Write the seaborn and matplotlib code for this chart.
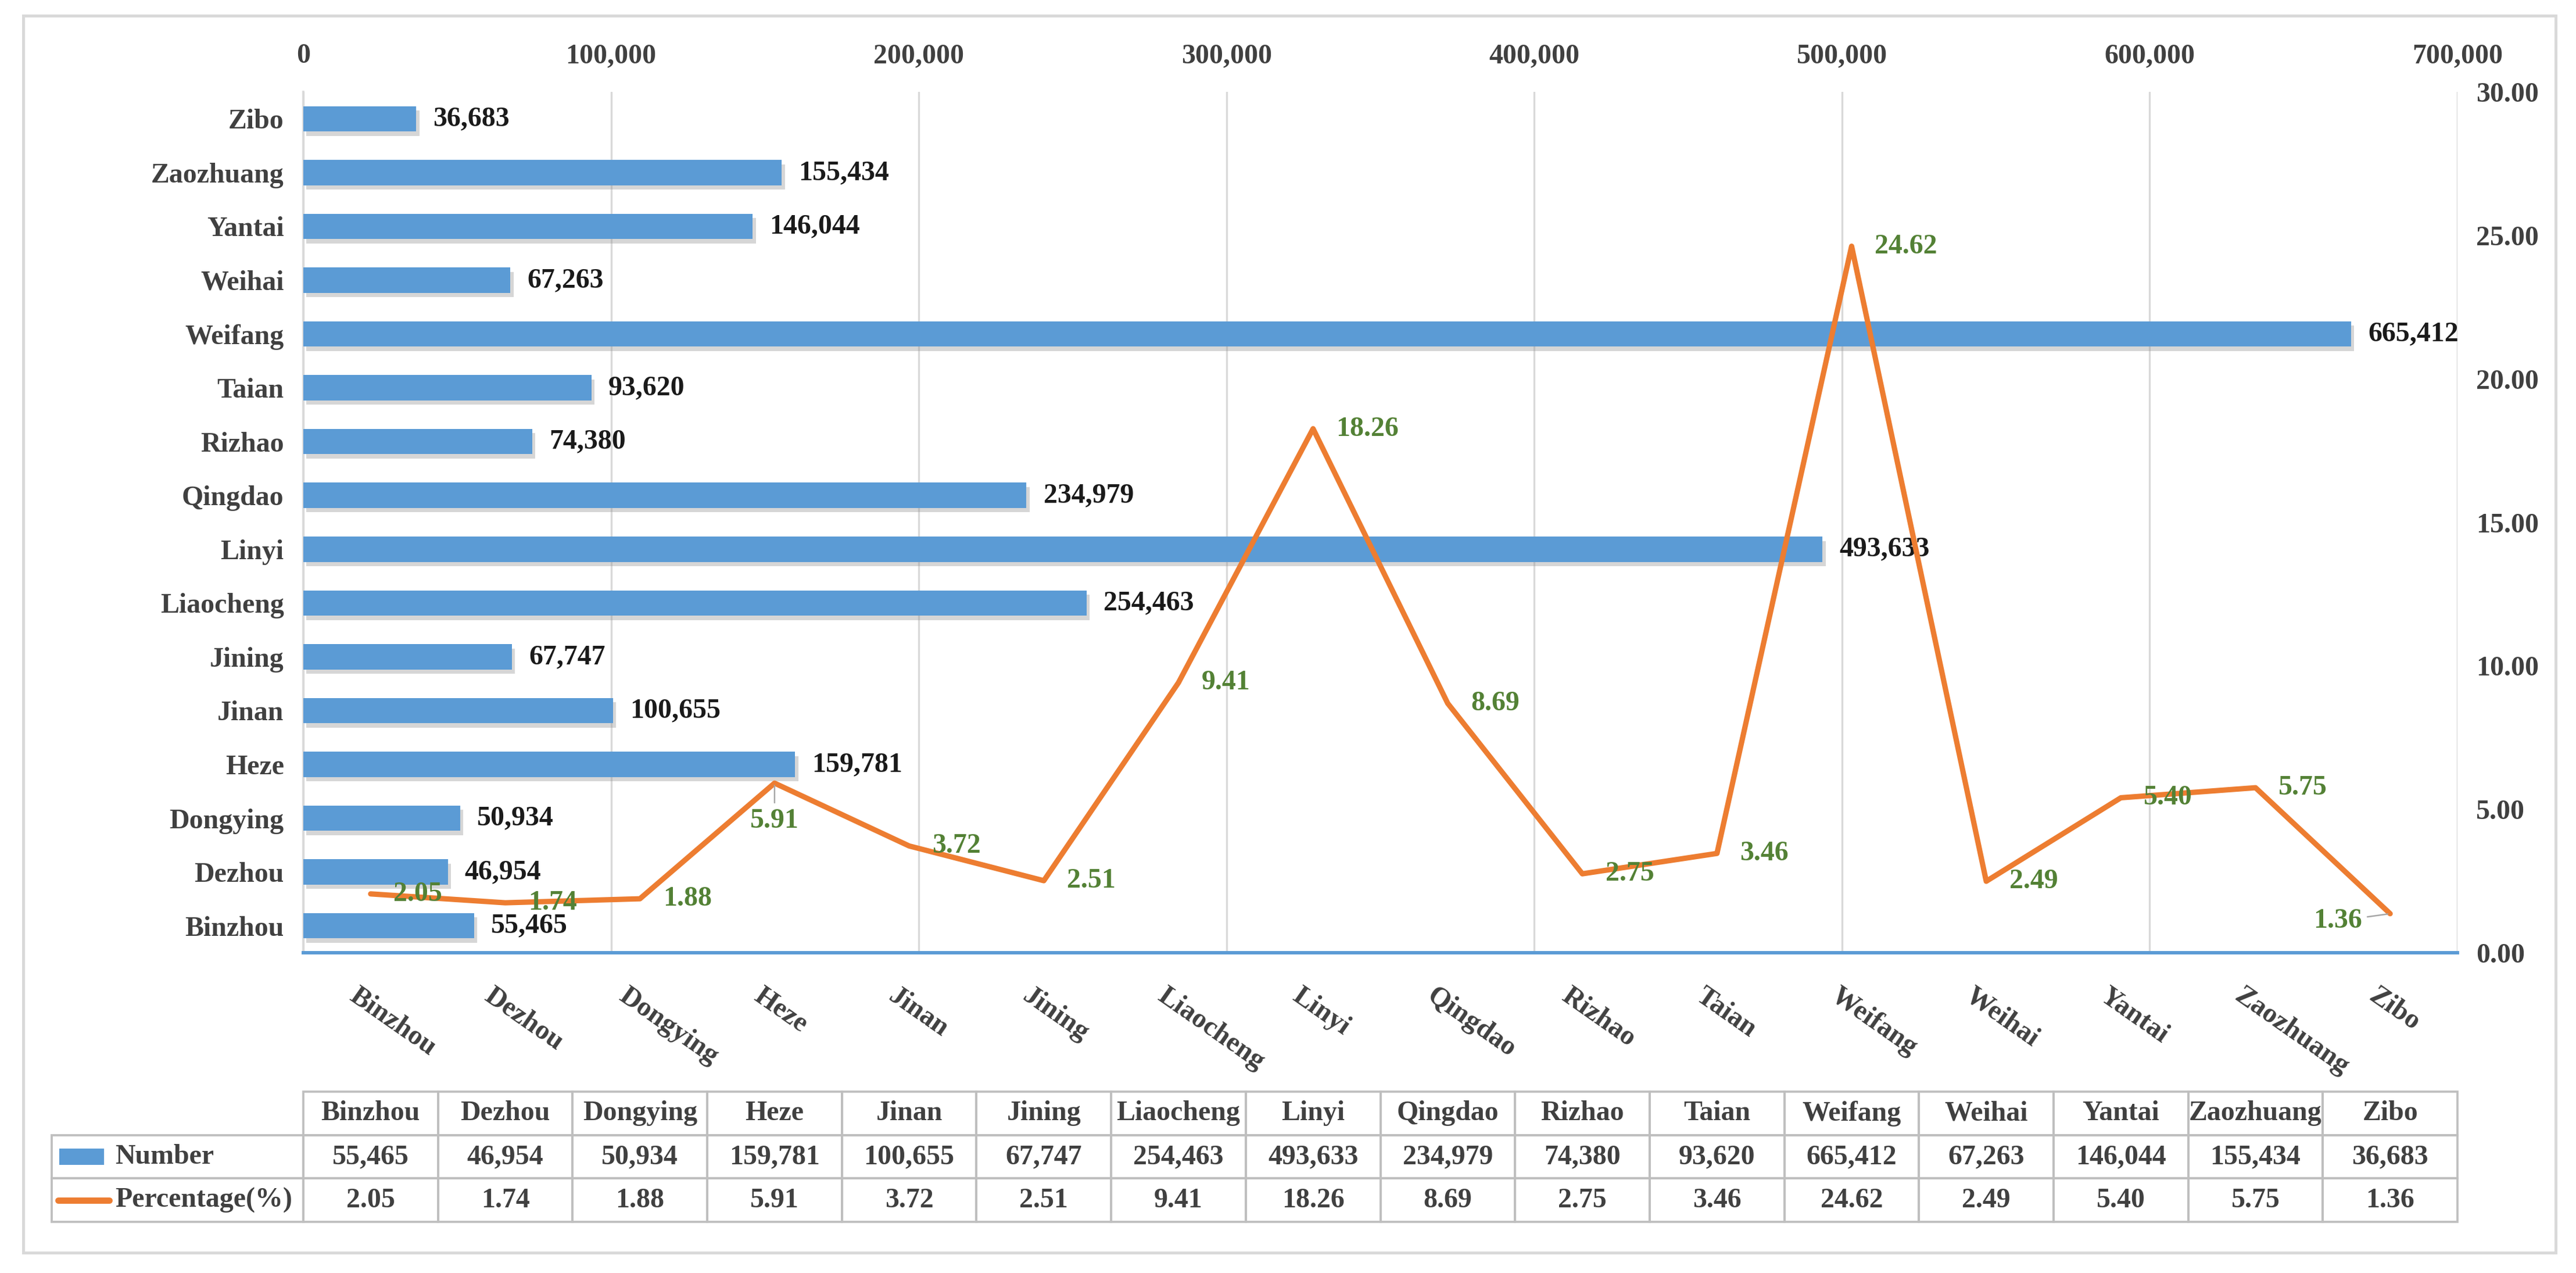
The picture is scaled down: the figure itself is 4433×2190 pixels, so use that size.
import numpy as np
import pandas as pd
import matplotlib
matplotlib.use("Agg")
import matplotlib.pyplot as plt
import matplotlib.patheffects as pe
from matplotlib.patches import Rectangle
from matplotlib.lines import Line2D
from matplotlib.ticker import FixedLocator, MultipleLocator, FuncFormatter
import seaborn as sns

# data
cities = ["Binzhou", "Dezhou", "Dongying", "Heze", "Jinan", "Jining", "Liaocheng", "Linyi",
          "Qingdao", "Rizhao", "Taian", "Weifang", "Weihai", "Yantai", "Zaozhuang", "Zibo"]
numbers = [55465, 46954, 50934, 159781, 100655, 67747, 254463, 493633,
           234979, 74380, 93620, 665412, 67263, 146044, 155434, 36683]
percentages = [2.05, 1.74, 1.88, 5.91, 3.72, 2.51, 9.41, 18.26,
               8.69, 2.75, 3.46, 24.62, 2.49, 5.40, 5.75, 1.36]
series_names = ["Number", "Percentage(%)"]

# label placement for the percentage labels (points, alignment)
label_offsets = [(9.5, 0, "left")] * 16
label_offsets[3] = (0, -15.5, "center")   # Heze, below the point
label_offsets[15] = (-11.5, -3, "right")  # Zibo, left of the point

BLUE = "#5B9BD5"
ORANGE = "#ED7D31"
GREEN = "#538135"
GREY_TEXT = "#404040"
GRID = "#D9D9D9"
TABLE_EDGE = "#BFBFBF"
FS = 11.5

sns.set_style("white")
plt.rcParams["font.family"] = ["Liberation Serif", "DejaVu Serif"]
plt.rcParams["font.weight"] = "bold"
plt.rcParams["font.size"] = FS

W, H = 4433, 2190
fig = plt.figure(figsize=(W / 300, H / 300), dpi=300)

# plot area in pixels
px_left, px_right, px_top, px_bottom = 522, 4229, 158, 1639
plot_w = px_right - px_left
plot_h = px_bottom - px_top
rect = [px_left / W, 1 - px_bottom / H, plot_w / W, plot_h / H]

df = pd.DataFrame({"city": cities, "number": numbers, "pct": percentages})
df["pos"] = np.arange(len(df))

# ---- bars: Number, horizontal, value axis on top ----
ax = fig.add_axes(rect)
sns.barplot(data=df, x="number", y="city", order=cities[::-1], orient="h",
            color=BLUE, saturation=1, width=0.47, ax=ax, zorder=3,
            edgecolor="none", linewidth=0)
for patch in ax.patches:
    patch.set_path_effects([
        pe.SimplePatchShadow(offset=(1.3, -1.8), shadow_rgbFace="#8C8C8C", alpha=0.35),
        pe.Normal(),
    ])
for cont in ax.containers:
    ax.bar_label(cont, fmt="{:,.0f}", padding=7, color="#1A1A1A", fontsize=FS,
                 fontweight="bold")

ax.set_xlim(0, 700000)
ax.xaxis.set_major_locator(MultipleLocator(100000))
ax.xaxis.set_major_formatter(FuncFormatter(lambda v, _: f"{v:,.0f}"))
ax.xaxis.tick_top()
ax.tick_params(axis="x", length=0, pad=9.5, labelcolor=GREY_TEXT)
ax.grid(axis="x", color=GRID, lw=0.8)
ax.set_axisbelow(True)
ax.set_xlabel("")
ax.set_ylabel("")
for s in ["top", "right", "bottom"]:
    ax.spines[s].set_visible(False)
ax.spines["left"].set_color(GRID)
ax.spines["left"].set_linewidth(0.9)
ax.tick_params(axis="y", which="major", length=0, pad=8, labelcolor=GREY_TEXT)
ax.yaxis.set_minor_locator(FixedLocator(np.arange(-0.5, len(cities), 1)))
ax.tick_params(axis="y", which="minor", length=4.8, width=0.9, color=GRID)

# ---- line: Percentage, category axis at bottom, value axis on right ----
ax2 = fig.add_axes(rect)
ax2.patch.set_alpha(0)
sns.lineplot(data=df, x="pos", y="pct", sort=False, color=ORANGE, lw=2.2, ax=ax2)
ax2.set_xlim(-0.5, len(cities) - 0.5)
ax2.set_ylim(0, 30)
ax2.set_xlabel("")
ax2.set_ylabel("")
ax2.yaxis.tick_right()
ax2.yaxis.set_major_locator(MultipleLocator(5))
ax2.yaxis.set_major_formatter(FuncFormatter(lambda v, _: f"{v:.2f}"))
ax2.tick_params(axis="y", length=0, pad=7.7, labelcolor=GREY_TEXT)
ax2.set_xticks(range(len(cities)))
ax2.set_xticklabels([])
ax2.tick_params(axis="x", which="major", length=0)
ax2.xaxis.set_minor_locator(FixedLocator(np.arange(-0.5, len(cities), 1)))
ax2.tick_params(axis="x", which="minor", direction="in", length=4.8, width=1.3, color=BLUE)
for s in ["top", "right", "left"]:
    ax2.spines[s].set_visible(False)
ax2.spines["bottom"].set_color(BLUE)
ax2.spines["bottom"].set_linewidth(1.4)

for i, name in enumerate(cities):
    ax2.annotate(name, xy=(i, 0), xycoords=("data", "axes fraction"),
                 xytext=(-4.5, -12.5), textcoords="offset points",
                 rotation=-35, rotation_mode="anchor", ha="left", va="top",
                 color=GREY_TEXT, annotation_clip=False)

for i, (p, (dx, dy, ha)) in enumerate(zip(percentages, label_offsets)):
    arrow = None
    if dx <= 0:
        arrow = dict(arrowstyle="-", color="#A6A6A6", lw=0.6, shrinkA=0, shrinkB=1)
    ax2.annotate(f"{p:.2f}", xy=(i, p), xytext=(dx, dy), textcoords="offset points",
                 ha=ha, va="center", color=GREEN, arrowprops=arrow)

# ---- data table below ----
tbl_left, tbl_top, tbl_bottom = 89, 1878, 2102
bbox = [(tbl_left - px_left) / plot_w, (px_bottom - tbl_bottom) / plot_h,
        (px_right - tbl_left) / plot_w, (tbl_bottom - tbl_top) / plot_h]
cell_text = [[""] + cities,
             [""] + [f"{v:,}" for v in numbers],
             [""] + [f"{p:.2f}" for p in percentages]]
col_widths = [px_left - tbl_left] + [plot_w / len(cities)] * len(cities)
tbl = ax2.table(cellText=cell_text, colWidths=col_widths, bbox=bbox, cellLoc="center")
tbl.auto_set_font_size(False)
tbl.set_fontsize(FS)
for (r, c), cell in tbl.get_celld().items():
    cell.set_edgecolor(TABLE_EDGE)
    cell.set_linewidth(0.9)
    cell.set_facecolor("none")
    cell.get_text().set_color(GREY_TEXT)
    cell.get_text().set_fontweight("bold")
tbl[(0, 0)].visible_edges = "open"

row_h = bbox[3] / 3
row_y = [bbox[1] + bbox[3] - (r + 0.5) * row_h for r in range(3)]
gx0 = (100 - px_left) / plot_w
gx1 = (188 - px_left) / plot_w
tx = (198 - px_left) / plot_w
sq_h = 28 / plot_h
ax2.add_patch(Rectangle((gx0 + 0.0005, row_y[1] - sq_h / 2), gx1 - gx0 - 0.003, sq_h,
                        transform=ax2.transAxes, clip_on=False, color=BLUE, lw=0))
ax2.add_line(Line2D([gx0, gx1], [row_y[2], row_y[2]], transform=ax2.transAxes,
                    clip_on=False, color=ORANGE, lw=2.6))
for name, y in zip(series_names, row_y[1:]):
    ax2.text(tx, y, name, transform=ax2.transAxes, ha="left", va="center",
             color=GREY_TEXT, clip_on=False)

# outer frame
fig.patches.append(Rectangle((40 / W, 1 - 2155 / H), (4398 - 40) / W, (2155 - 27) / H,
                             transform=fig.transFigure, fill=False, ec=GRID, lw=1.2))

fig.savefig("out.png", dpi=300)
